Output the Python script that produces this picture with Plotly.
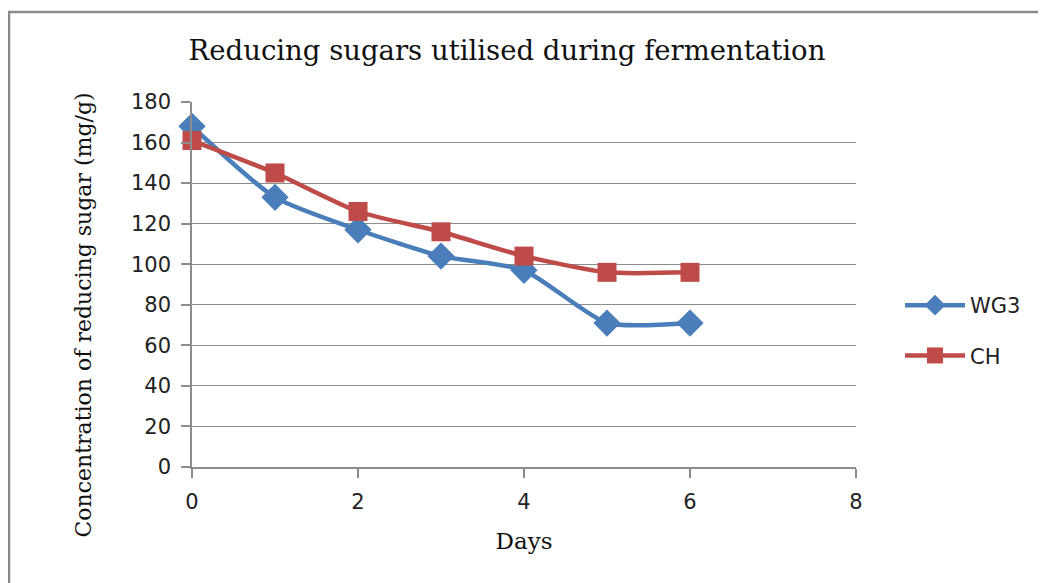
import plotly.graph_objects as go

days = [0, 1, 2, 3, 4, 5, 6]
wg3 = [168, 133, 117, 104, 97, 71, 71]
ch = [161, 145, 126, 116, 104, 96, 96]
x_ticks = [0, 2, 4, 6, 8]
y_ticks = [0, 20, 40, 60, 80, 100, 120, 140, 160, 180]

# page offset (body margin) and reference-pixel plot box
OX, OY = 8, 8
WIN_W, WIN_H = 1046, 583
W, H = WIN_W - OX, WIN_H - OY
L, R, T, B = 192, 856, 102, 467
pw, ph = R - L, B - T

def px(x):
    return (x - L) / pw

def py(y):
    return (B - y) / ph

blue = "#4A7EBB"
red = "#BE4B48"
fig = go.Figure()
fig.add_trace(go.Scatter(x=days, y=wg3, name="WG3", mode="lines+markers", legendgroup="a",
                         cliponaxis=False,
                         line=dict(color=blue, width=4.5, shape="spline", smoothing=0.6),
                         marker=dict(symbol="diamond", size=21, color=blue)))
fig.add_trace(go.Scatter(x=days, y=ch, name="CH", mode="lines+markers", legendgroup="b",
                         cliponaxis=False,
                         line=dict(color=red, width=4.5, shape="spline", smoothing=0.6),
                         marker=dict(symbol="square", size=19, color=red)))

grid = "#8c8c8c"
serif = "DejaVu Serif, Liberation Serif, serif"
sans = "DejaVu Sans, Liberation Sans, sans-serif"
fig.update_layout(
    width=W, height=H,
    margin=dict(l=L - OX, r=WIN_W - R, t=T - OY, b=WIN_H - B),
    paper_bgcolor="white", plot_bgcolor="white",
    showlegend=True,
    legend=dict(x=px(900), y=py(285), xanchor="left", yanchor="top",
                font=dict(family=sans, size=21, color="#222"),
                tracegroupgap=20, itemwidth=60, bgcolor="rgba(0,0,0,0)"),
    title=dict(text="Reducing sugars utilised during fermentation", x=(507 - OX) / W, xanchor="center",
               y=1 - (50 - OY) / H, yanchor="middle",
               font=dict(family=serif, size=27.5, color="#111")),
    xaxis=dict(range=[0, 8], tickvals=x_ticks, showgrid=False, zeroline=False,
               showline=True, linecolor=grid, linewidth=1.5, ticks="outside", ticklen=9,
               tickcolor=grid, tickwidth=1.5, ticklabelstandoff=6,
               tickfont=dict(family=sans, size=21, color="#222"),
               title=dict(text="Days", standoff=20,
                          font=dict(family=serif, size=23, color="#111"))),
    yaxis=dict(range=[0, 180], tickvals=y_ticks, showgrid=True, gridcolor=grid, gridwidth=1.3,
               zeroline=False, showline=True, linecolor=grid, linewidth=1.5, ticks="outside",
               ticklen=9, tickcolor=grid, tickwidth=1.5, ticklabelstandoff=6,
               tickfont=dict(family=sans, size=21, color="#222")),
)

fig.add_annotation(text="Concentration of reducing sugar (mg/g)", xref="paper", yref="paper",
                   x=px(68), y=py(315), textangle=-90, showarrow=False,
                   font=dict(family=serif, size=22, color="#111"))

# outer chart border
fig.add_shape(type="line", xref="paper", yref="paper", x0=px(8), x1=px(1046), y0=py(12), y1=py(12),
              line=dict(color="#8a8a8a", width=2.5))
fig.add_shape(type="line", xref="paper", yref="paper", x0=px(9), x1=px(9), y0=py(12), y1=py(583),
              line=dict(color="#8a8a8a", width=2.5))

fig.write_html("out.html")
